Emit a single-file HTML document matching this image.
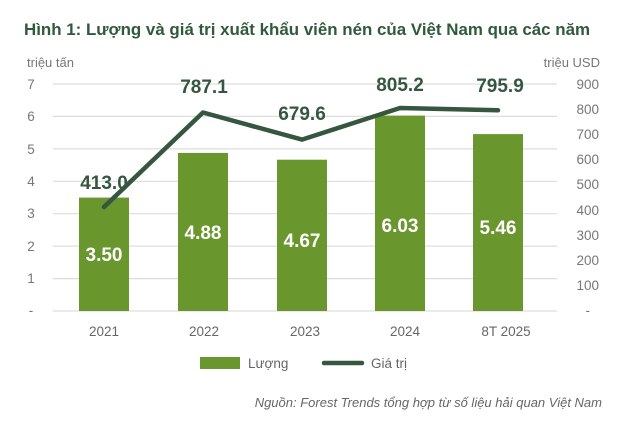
<!DOCTYPE html>
<html><head><meta charset="utf-8"><style>
body{margin:0;background:#fff;width:643px;height:438px;overflow:hidden;font-family:"Liberation Sans",sans-serif;}
</style></head><body>
<svg width="643" height="438" xmlns="http://www.w3.org/2000/svg" font-family="Liberation Sans, sans-serif">
<text x="24" y="35" font-size="16.5" font-weight="bold" fill="#2f5a3b" textLength="566" lengthAdjust="spacingAndGlyphs">Hình 1: Lượng và giá trị xuất khẩu viên nén của Việt Nam qua các năm</text>
<text x="27" y="67" font-size="13" fill="#777">triệu tấn</text>
<text x="600" y="67" font-size="13" fill="#777" text-anchor="end">triệu USD</text>
<g stroke="#ddd" stroke-width="1.2">
<line x1="53" x2="557" y1="84" y2="84"/><line x1="53" x2="557" y1="116.4" y2="116.4"/>
<line x1="53" x2="557" y1="148.9" y2="148.9"/><line x1="53" x2="557" y1="181.3" y2="181.3"/>
<line x1="53" x2="557" y1="213.7" y2="213.7"/><line x1="53" x2="557" y1="246.1" y2="246.1"/>
<line x1="53" x2="557" y1="278.6" y2="278.6"/><line x1="53" x2="557" y1="311" y2="311"/>
</g>
<g font-size="13.5" fill="#777" text-anchor="middle">
<text x="31" y="89">7</text><text x="31" y="121">6</text><text x="31" y="154">5</text><text x="31" y="186">4</text>
<text x="31" y="218">3</text><text x="31" y="251">2</text><text x="31" y="283">1</text><text x="31" y="315">-</text>
</g>
<g font-size="13.5" fill="#777" text-anchor="end">
<text x="599" y="89">900</text><text x="599" y="114">800</text><text x="599" y="139">700</text><text x="599" y="164">600</text>
<text x="599" y="189">500</text><text x="599" y="215">400</text><text x="599" y="240">300</text><text x="599" y="265">200</text>
<text x="599" y="290">100</text><text x="590" y="315">-</text>
</g>
<g fill="#6a962e">
<rect x="79" y="197.6" width="50" height="113.4"/>
<rect x="178" y="152.9" width="50" height="158.1"/>
<rect x="277" y="159.7" width="50" height="151.3"/>
<rect x="375" y="115.6" width="50" height="195.4"/>
<rect x="473" y="134.1" width="50" height="176.9"/>
</g>
<g font-size="19" font-weight="bold" fill="#fff" text-anchor="middle">
<text x="104" y="261">3.50</text><text x="203" y="239">4.88</text><text x="302" y="247">4.67</text>
<text x="400" y="232">6.03</text><text x="498" y="234">5.46</text>
</g>
<polyline points="104,207 203,112.5 302,139.6 400,108 498,110.3" fill="none" stroke="#35563f" stroke-width="4.5" stroke-linecap="round" stroke-linejoin="round"/>
<g font-size="19" font-weight="bold" fill="#35563f" text-anchor="middle">
<text x="104" y="189">413.0</text><text x="204" y="93">787.1</text><text x="302" y="120">679.6</text>
<text x="400" y="91">805.2</text><text x="500" y="92">795.9</text>
</g>
<g font-size="13.5" fill="#666" text-anchor="middle">
<text x="104" y="336">2021</text><text x="204" y="336">2022</text><text x="305" y="336">2023</text>
<text x="405" y="336">2024</text><text x="506" y="336">8T 2025</text>
</g>
<rect x="200" y="357" width="40" height="12" fill="#6a962e"/>
<text x="248" y="368" font-size="13.5" fill="#666">Lượng</text>
<line x1="324" x2="362" y1="363" y2="363" stroke="#35563f" stroke-width="4.5" stroke-linecap="round"/>
<text x="371" y="368" font-size="13.5" fill="#666">Giá trị</text>
<text x="602" y="407" font-size="13" font-style="italic" fill="#666" text-anchor="end">Nguồn: Forest Trends tổng hợp từ số liệu hải quan Việt Nam</text>
</svg>
</body></html>
